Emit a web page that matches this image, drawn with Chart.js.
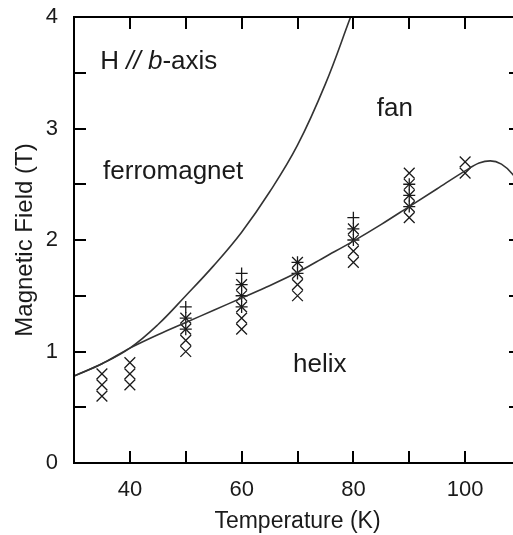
<!DOCTYPE html>
<html lang="en">
<head>
    <meta charset="UTF-8">
    <title>Magnetic phase diagram, H // b-axis</title>
    <script src="https://cdn.jsdelivr.net/npm/chart.js"></script>
    <style>
        html, body {
            margin: 0;
            padding: 0;
            background-color: #fff;
            overflow: hidden;
        }
        #wrap {
            width: 530px;
            height: 535px;
        }
    </style>
</head>
<body>
    <div id="wrap">
        <canvas id="phaseChart" width="530" height="535"></canvas>
    </div>

    <script>
        // measured points: field sweeps (x marks)
        const crossTemp = [35, 35, 35, 40, 40, 40, 50, 50, 50, 50, 60, 60, 60, 60, 60,
                           70, 70, 70, 70, 80, 80, 80, 80, 90, 90, 90, 90, 90, 100, 100];
        const crossField = [0.6, 0.7, 0.8, 0.7, 0.8, 0.9, 1.0, 1.1, 1.2, 1.3, 1.2, 1.3, 1.4, 1.5, 1.6,
                            1.5, 1.6, 1.7, 1.8, 1.8, 1.9, 2.0, 2.1, 2.2, 2.3, 2.4, 2.5, 2.6, 2.6, 2.7];

        // measured points: temperature sweeps (+ marks)
        const plusTemp = [50, 50, 50, 60, 60, 60, 60, 70, 70, 80, 80, 80, 90, 90, 90];
        const plusField = [1.2, 1.3, 1.4, 1.4, 1.5, 1.6, 1.7, 1.7, 1.8, 2.0, 2.1, 2.2, 2.3, 2.4, 2.5];

        // ferromagnet / fan boundary
        const ferroTemp = [30, 35, 40, 45, 50, 55, 60, 65, 70, 75, 79.5];
        const ferroField = [0.78, 0.89, 1.03, 1.24, 1.50, 1.77, 2.07, 2.43, 2.85, 3.40, 4.0];

        // helix / fan boundary
        const helixTemp = [30, 35, 40, 45, 50, 55, 60, 65, 70, 75, 80, 85, 90, 95, 100, 102.5, 104.5, 106.5, 108.5, 110];
        const helixField = [0.78, 0.89, 1.03, 1.15, 1.26, 1.37, 1.48, 1.59, 1.71, 1.85, 1.99, 2.14, 2.30, 2.46, 2.62, 2.69, 2.71, 2.68, 2.59, 2.48];

        const xTicks = [40, 60, 80, 100];
        const yTicks = [0, 1, 2, 3, 4];

        const toPoints = (xs, ys) => xs.map((x, i) => ({ x: x, y: ys[i] }));

        const INK = '#1a1a1a';
        const FONT = '"Liberation Sans", Arial, sans-serif';

        // region labels, placed in data coordinates
        const notes = [
            { text: 'ferromagnet', x: 35.2, y: 2.61 },
            { text: 'fan', x: 84.2, y: 3.18 },
            { text: 'helix', x: 69.2, y: 0.88 }
        ];

        // keep the plot box where the reference has it
        const noScalePadding = s => {
            s.paddingTop = 0;
            s.paddingBottom = 0;
            s.paddingLeft = 0;
            s.paddingRight = 0;
        };

        const framePlugin = {
            id: 'frame',
            afterDraw(chart) {
                const { ctx, chartArea: a, scales: { x, y } } = chart;
                ctx.save();
                ctx.strokeStyle = '#000';
                ctx.lineWidth = 2;
                ctx.strokeRect(a.left, a.top, a.right - a.left, a.bottom - a.top);

                // inward ticks on all four sides
                const len = 12;
                ctx.beginPath();
                x.ticks.forEach(t => {
                    const px = Math.round(x.getPixelForValue(t.value));
                    if (px <= a.left + 1 || px >= a.right - 1) return;
                    ctx.moveTo(px, a.bottom);
                    ctx.lineTo(px, a.bottom - len);
                    ctx.moveTo(px, a.top);
                    ctx.lineTo(px, a.top + len);
                });
                y.ticks.forEach(t => {
                    const py = Math.round(y.getPixelForValue(t.value));
                    if (py <= a.top + 1 || py >= a.bottom - 1) return;
                    ctx.moveTo(a.left, py);
                    ctx.lineTo(a.left + len, py);
                    ctx.moveTo(a.right, py);
                    ctx.lineTo(a.right - len, py);
                });
                ctx.stroke();

                // region labels
                ctx.fillStyle = INK;
                ctx.textBaseline = 'middle';
                ctx.textAlign = 'left';
                ctx.font = '26px ' + FONT;
                notes.forEach(n => {
                    ctx.fillText(n.text, x.getPixelForValue(n.x), y.getPixelForValue(n.y));
                });

                // "H // b-axis" with italic b
                let hx = x.getPixelForValue(34.7);
                const hy = y.getPixelForValue(3.6);
                const parts = [['H ', ''], ['//', 'italic '], [' ', ''], ['b', 'italic '], ['-axis', '']];
                parts.forEach(([s, style]) => {
                    ctx.font = style + '26px ' + FONT;
                    ctx.fillText(s, hx, hy);
                    hx += ctx.measureText(s).width;
                });
                ctx.restore();
            }
        };

        new Chart(document.getElementById('phaseChart'), {
            type: 'scatter',
            data: {
                datasets: [
                    {
                        label: 'ferro boundary',
                        data: toPoints(ferroTemp, ferroField),
                        showLine: true,
                        borderColor: '#333',
                        borderWidth: 1.6,
                        pointRadius: 0,
                        tension: 0.4,
                        clip: 0
                    },
                    {
                        label: 'helix boundary',
                        data: toPoints(helixTemp, helixField),
                        showLine: true,
                        borderColor: '#333',
                        borderWidth: 1.6,
                        pointRadius: 0,
                        cubicInterpolationMode: 'monotone',
                        clip: 0
                    },
                    {
                        label: 'field sweep',
                        data: toPoints(crossTemp, crossField),
                        pointStyle: 'crossRot',
                        pointRadius: 7.6,
                        pointBorderWidth: 1.3,
                        borderColor: INK,
                        backgroundColor: 'transparent'
                    },
                    {
                        label: 'temperature sweep',
                        data: toPoints(plusTemp, plusField),
                        pointStyle: 'cross',
                        pointRadius: 6,
                        pointBorderWidth: 1.3,
                        borderColor: INK,
                        backgroundColor: 'transparent'
                    }
                ]
            },
            options: {
                responsive: false,
                animation: false,
                devicePixelRatio: 1,
                layout: { padding: { top: 17, right: 9, left: 0, bottom: 0 } },
                plugins: {
                    legend: { display: false },
                    tooltip: { enabled: false }
                },
                scales: {
                    x: {
                        type: 'linear',
                        min: 30,
                        max: 110,
                        grid: { display: false, drawTicks: false },
                        border: { display: false },
                        ticks: {
                            stepSize: 10,
                            padding: 14,
                            color: INK,
                            font: { family: FONT, size: 22 },
                            maxRotation: 0,
                            autoSkip: false,
                            callback: v => xTicks.includes(v) ? String(v) : ''
                        },
                        title: {
                            display: true,
                            text: 'Temperature (K)',
                            color: INK,
                            font: { family: FONT, size: 23 },
                            padding: { top: 0, bottom: 0 }
                        },
                        afterFit: s => { s.height = 72; noScalePadding(s); }
                    },
                    y: {
                        type: 'linear',
                        min: 0,
                        max: 4,
                        grid: { display: false, drawTicks: false },
                        border: { display: false },
                        ticks: {
                            stepSize: 0.5,
                            padding: 16,
                            color: INK,
                            font: { family: FONT, size: 22 },
                            autoSkip: false,
                            callback: v => yTicks.includes(v) ? String(v) : ''
                        },
                        title: {
                            display: true,
                            text: 'Magnetic Field (T)',
                            color: INK,
                            font: { family: FONT, size: 24 },
                            padding: { top: 11, bottom: 0 }
                        },
                        afterFit: s => { s.width = 74; noScalePadding(s); }
                    }
                }
            },
            plugins: [framePlugin]
        });
    </script>
</body>
</html>
